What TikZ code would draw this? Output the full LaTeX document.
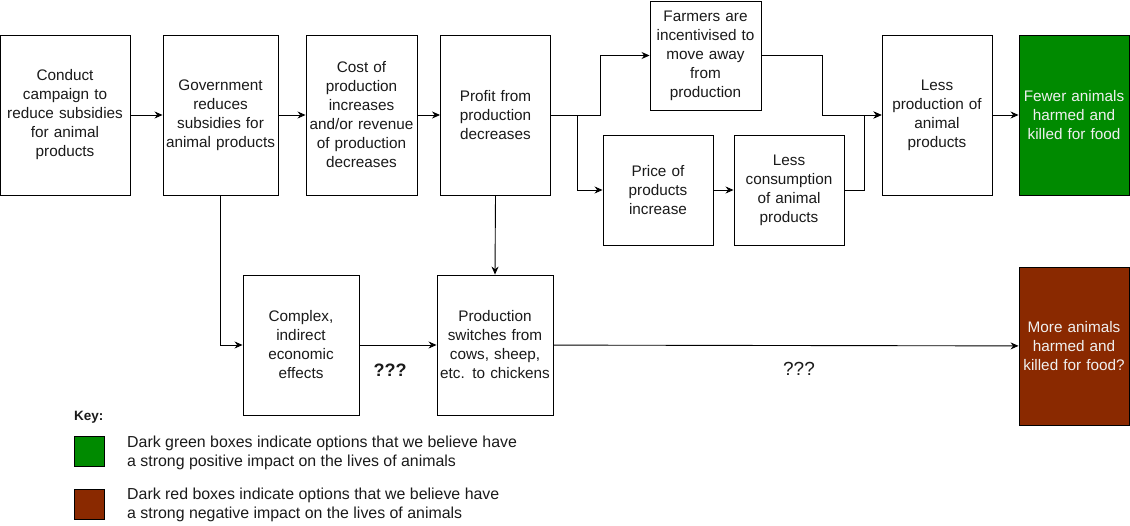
\documentclass[tikz,border=0pt]{standalone}
\usepackage{fontspec}
\setmainfont{Liberation Sans}
\usetikzlibrary{arrows.meta,positioning}
\definecolor{dkgreen}{HTML}{008A00}
\definecolor{dkred}{HTML}{8A2900}
\definecolor{txt}{HTML}{1A1A1A}
\begin{document}
\begin{tikzpicture}[x=1pt,y=-1pt,
  box/.style={draw=black, line width=0.9pt, fill=white, inner sep=1pt, align=center,
    text=txt, font=\fontsize{15.3}{19}\selectfont},
  colbox/.style={box, text=white!94!black},
  arr/.style={draw=black, line width=0.9pt, -{Stealth[length=8pt,width=7pt]}},
  conn/.style={draw=black, line width=0.9pt},
  keytext/.style={anchor=west, align=left, inner sep=0pt, text=txt, font=\fontsize{15.9}{19}\selectfont}
]
\useasboundingbox (0,0) rectangle (1130,525);

% main row
\node[box, minimum width=130, minimum height=160, text width=128] (b1) at (65,115)
  {Conduct\\campaign to\\reduce subsidies\\for animal\\products};
\node[box, minimum width=115, minimum height=160, text width=113] (b2) at (220.5,115)
  {Government\\reduces\\subsidies for\\animal products};
\node[box, minimum width=111, minimum height=160, text width=109] (b3) at (361.5,115)
  {Cost of\\production\\increases\\and/or revenue\\of production\\decreases};
\node[box, minimum width=110, minimum height=160, text width=108] (b4) at (495.5,115)
  {Profit from\\production\\decreases};
\node[box, minimum width=111, minimum height=109, text width=109] (farm) at (705.5,55.5)
  {Farmers are\\incentivised to\\move away\\from\\production};
\node[box, minimum width=110, minimum height=110, text width=108] (price) at (658,190)
  {Price of\\products\\increase};
\node[box, minimum width=110, minimum height=110, text width=108] (cons) at (789,190)
  {Less\\consumption\\of animal\\products};
\node[box, minimum width=110, minimum height=160, text width=108] (lessprod) at (937,115)
  {Less\\production of\\animal\\products};
\node[colbox, fill=dkgreen, minimum width=110, minimum height=160, text width=108] (green) at (1074,115)
  {Fewer animals\\harmed and\\killed for food};

% lower row
\node[box, minimum width=116, minimum height=140, text width=114] (complex) at (301,345)
  {Complex,\\indirect\\economic\\effects};
\node[box, minimum width=116, minimum height=140, text width=114] (switch) at (495,345)
  {Production\\switches from\\cows, sheep,\\etc. to chickens};
\node[colbox, fill=dkred, minimum width=110, minimum height=158, text width=108] (red) at (1074,346)
  {More animals\\harmed and\\killed for food?};

% junctions
\coordinate (j1) at (600,115);
\coordinate (j2) at (577,115);
\coordinate (j3) at (864,115);
\coordinate (j4) at (822,115);

% connectors
\draw[arr] (b1) -- (b2);
\draw[arr] (b2) -- (b3);
\draw[arr] (b3) -- (b4);
\draw[arr] (b4.east) -- (j1) |- (farm.west);
\draw[arr] (j2) |- (price.west);
\draw[arr] (price) -- (cons);
\draw[arr] (farm.east) -| (j4) -- (lessprod.west);
\draw[arr] (cons.east) -| (j3) -- (lessprod.west);
\draw[arr] (lessprod) -- (green);
\draw[arr] (b2.south) |- (complex.west);
\draw[arr] (b4.south) -- (switch.north);
\draw[arr] (complex) -- (switch);
\draw[arr] (switch) -- (red);

% labels
\node[font=\fontsize{18}{20}\selectfont\bfseries, text=txt] (q1) at (390,370) {???};
\node[font=\fontsize{19}{20}\selectfont, text=txt] (q2) at (799,369) {???};

% key
\node[anchor=west, inner sep=0pt, font=\fontsize{13.5}{16}\selectfont\bfseries, text=txt] (key) at (74,417) {Key:};
\node[draw=black, line width=0.9pt, fill=dkgreen, minimum width=30, minimum height=30, inner sep=0pt] (kg) at (89.5,451) {};
\node[draw=black, line width=0.9pt, fill=dkred, minimum width=30, minimum height=30, inner sep=0pt] (kr) at (89.5,504) {};
\node[keytext] (kgt) at (127,453) {Dark green boxes indicate options that we believe have\\a strong positive impact on the lives of animals};
\node[keytext] (krt) at (127,505) {Dark red boxes indicate options that we believe have\\a strong negative impact on the lives of animals};
\end{tikzpicture}
\end{document}
